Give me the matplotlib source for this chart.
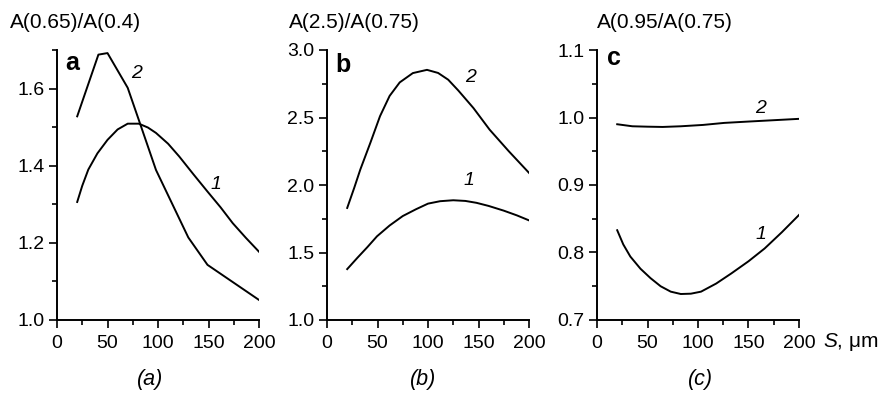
import numpy as np
import matplotlib.pyplot as plt
from matplotlib.ticker import MultipleLocator

plt.rcParams['font.family'] = ['Liberation Sans', 'DejaVu Sans']
plt.rcParams['mathtext.fontset'] = 'custom'
plt.rcParams['mathtext.it'] = 'Liberation Sans:italic'
plt.rcParams['mathtext.rm'] = 'Liberation Sans'

# panel a
a1_x = [20, 25, 31, 40, 50, 60, 70, 81, 90, 98, 110, 121, 135, 149, 162, 174, 187, 200]
a1_y = [1.306, 1.348, 1.390, 1.432, 1.467, 1.494, 1.509, 1.509, 1.499, 1.485, 1.457, 1.424, 1.378, 1.333, 1.292, 1.251, 1.213, 1.177]
a2_x = [20, 41, 50, 70, 82, 98, 130, 149, 200]
a2_y = [1.528, 1.688, 1.692, 1.602, 1.511, 1.389, 1.214, 1.143, 1.052]

# panel b
b1_x = [20, 30, 40, 49.5, 62, 75, 88, 100, 112, 125, 137, 148, 160, 175, 188, 200]
b1_y = [1.377, 1.46, 1.54, 1.62, 1.70, 1.77, 1.82, 1.862, 1.880, 1.887, 1.882, 1.868, 1.845, 1.810, 1.775, 1.738]
b2_x = [20, 27, 33, 43, 52.5, 62, 72, 85, 99, 110, 120, 130, 145, 161, 180, 200]
b2_y = [1.83, 1.98, 2.115, 2.314, 2.51, 2.66, 2.76, 2.829, 2.853, 2.83, 2.78, 2.70, 2.57, 2.41, 2.25, 2.09]

# panel c
c1_x = [20, 26, 33, 43, 53, 63, 73, 83, 93, 103, 118, 133, 150, 166, 183, 200]
c1_y = [0.833, 0.812, 0.794, 0.776, 0.762, 0.750, 0.742, 0.7385, 0.739, 0.742, 0.754, 0.769, 0.787, 0.806, 0.830, 0.8556]
c2_x = [20, 35, 50, 65, 83, 105, 126, 150, 175, 200]
c2_y = [0.990, 0.987, 0.9864, 0.986, 0.987, 0.989, 0.992, 0.994, 0.996, 0.998]

titles = ['A(0.65)/A(0.4)', 'A(2.5)/A(0.75)', 'A(0.95/A(0.75)']
letters = ['a', 'b', 'c']
captions = ['(a)', '(b)', '(c)']
ylims = [(1.0, 1.7), (1.0, 3.0), (0.7, 1.1)]
ymajor = [0.2, 0.5, 0.1]
lab1 = [(157, 1.35), (141, 2.03), (162, 0.826)]
lab2 = [(79, 1.64), (142, 2.80), (162, 1.014)]

W, H = 890, 394
fig = plt.figure(figsize=(W / 100, H / 100), dpi=100)
lefts = [57, 327, 597]
title_x = [10, 289, 597]
letter_pos = [(0.04, 0.926), (0.04, 0.919), (0.05, 0.944)]
caption_x = [150, 423, 700]
series = [(a1_x, a1_y, a2_x, a2_y), (b1_x, b1_y, b2_x, b2_y), (c1_x, c1_y, c2_x, c2_y)]

for i in range(3):
    ax = fig.add_axes([lefts[i] / W, 1 - 320 / H, 202 / W, 270 / H])
    x1, y1, x2, y2 = series[i]
    ax.plot(x1, y1, color='black', lw=1.4)
    ax.plot(x2, y2, color='black', lw=1.4)
    ax.set_xlim(0, 200)
    ax.set_ylim(*ylims[i])
    ax.spines['top'].set_visible(False)
    ax.spines['right'].set_visible(False)
    ax.spines['left'].set_linewidth(1.4)
    ax.spines['bottom'].set_linewidth(1.4)
    ax.xaxis.set_major_locator(MultipleLocator(50))
    ax.xaxis.set_minor_locator(MultipleLocator(25))
    ax.yaxis.set_major_locator(MultipleLocator(ymajor[i]))
    ax.yaxis.set_minor_locator(MultipleLocator(ymajor[i] / 2))
    ax.yaxis.set_major_formatter(plt.FormatStrFormatter('%.1f'))
    ax.tick_params(which='both', direction='out', width=1.2, labelsize=14)
    ax.tick_params(which='major', length=5.5)
    ax.tick_params(which='minor', length=3.5)
    ax.tick_params(axis='x', which='major', pad=5)
    ax.tick_params(axis='y', which='major', pad=3.5)
    ax.text(letter_pos[i][0], letter_pos[i][1], letters[i], transform=ax.transAxes,
            fontsize=18, fontweight='bold', va='baseline', ha='left')
    ax.text(lab1[i][0], lab1[i][1], '1', fontsize=14, style='italic', ha='center', va='center')
    ax.text(lab2[i][0], lab2[i][1], '2', fontsize=14, style='italic', ha='center', va='center')
    fig.text(caption_x[i] / W, 1 - 380 / H, captions[i], fontsize=15.5,
             style='italic', ha='center', va='center')
    fig.text(title_x[i] / W, 1 - 28 / H, titles[i], fontsize=15,
             ha='left', va='baseline')

fig.text(823 / W, 1 - 347 / H, '$S$, \u03bcm', fontsize=15, ha='left', va='baseline')

fig.savefig('out.png', dpi=100)
